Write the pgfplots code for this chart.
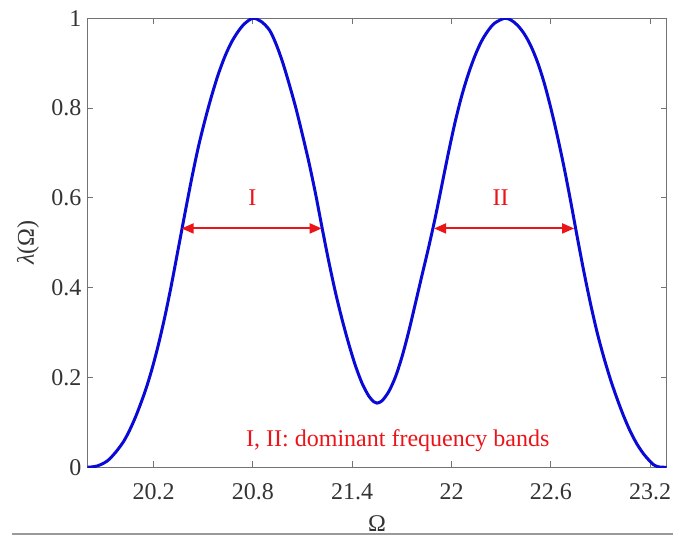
\documentclass[border=0pt]{standalone}
\usepackage{fontspec}
\setmainfont{Liberation Serif}
\usepackage{pgfplots}
\pgfplotsset{compat=1.18}
\usetikzlibrary{arrows.meta}
\definecolor{curveblue}{RGB}{10,10,215}
\definecolor{annred}{RGB}{235,20,25}
\begin{document}
\begin{tikzpicture}[font=\fontsize{12}{14}\selectfont]
\begin{axis}[
  name=ax, at={(0,0)}, anchor=south west,
  scale only axis, width=289.7pt, height=224.5pt,
  xmin=19.8, xmax=23.3, ymin=0, ymax=1,
  xtick={20.2,20.8,21.4,22,22.6,23.2},
  ytick={0,0.2,0.4,0.6,0.8,1},
  tick align=inside, major tick length=3pt,
  axis line style={black!55, line width=0.5pt},
  every tick/.style={black!55, line width=0.5pt},
  /pgf/number format/assume math mode=true,
  tick label style={font=\fontsize{12}{14}\selectfont, text=black!80},
  xticklabel style={anchor=base, yshift=-16pt},
  yticklabel style={anchor=east, inner sep=0pt, xshift=-2.8pt},
  xlabel={Ω}, ylabel={\textit{λ}(Ω)},
  xlabel style={at={(axis description cs:0.5,-0.1421)}, anchor=base, text=black!80},
  ylabel style={at={(axis description cs:-0.1023,0.5)}, anchor=center, text=black!80},
]
\addplot[curveblue, line width=1.5pt, smooth] coordinates {
(19.80,0.000) (19.86,0.003) (19.92,0.014) (19.97,0.033) (20.02,0.058)
(20.06,0.086) (20.10,0.120) (20.15,0.170) (20.19,0.218) (20.23,0.274)
(20.27,0.338) (20.31,0.410) (20.35,0.488) (20.39,0.566) (20.43,0.642)
(20.47,0.712) (20.51,0.772) (20.55,0.826) (20.59,0.874) (20.63,0.914)
(20.67,0.946) (20.71,0.970) (20.75,0.988) (20.80,1.000)
(20.85,0.993) (20.90,0.974) (20.94,0.943) (20.98,0.902) (21.02,0.853)
(21.06,0.800) (21.10,0.740) (21.14,0.677) (21.18,0.607) (21.22,0.530)
(21.26,0.456) (21.30,0.388) (21.34,0.328) (21.38,0.274) (21.42,0.226)
(21.46,0.187) (21.50,0.159) (21.53,0.146) (21.55,0.143)
(21.58,0.148) (21.62,0.168) (21.66,0.200) (21.70,0.245) (21.74,0.300)
(21.78,0.362) (21.82,0.425) (21.86,0.487) (21.90,0.553) (21.94,0.625)
(21.98,0.698) (22.02,0.766) (22.06,0.825) (22.10,0.874) (22.14,0.915)
(22.18,0.948) (22.22,0.972) (22.26,0.989) (22.32,1.000)
(22.36,0.996) (22.40,0.984) (22.44,0.965) (22.48,0.938) (22.52,0.902)
(22.56,0.856) (22.60,0.800) (22.64,0.737) (22.68,0.668) (22.72,0.592)
(22.76,0.512) (22.80,0.435) (22.84,0.364) (22.88,0.300) (22.92,0.245)
(22.96,0.196) (23.00,0.153) (23.04,0.114) (23.08,0.080) (23.12,0.052)
(23.16,0.030) (23.20,0.013) (23.22,0.006) (23.25,0.001) (23.30,0.000)
};
\draw[annred, line width=1pt, {Triangle[length=6pt,width=5pt]}-{Triangle[length=6pt,width=5pt]}]
  (axis cs:20.37,0.532) -- (axis cs:21.216,0.532);
\draw[annred, line width=1pt, {Triangle[length=6pt,width=5pt]}-{Triangle[length=6pt,width=5pt]}]
  (axis cs:21.895,0.532) -- (axis cs:22.741,0.532);
\node[text=annred] at (axis cs:20.797,0.600) {I};
\node[text=annred] at (axis cs:22.297,0.600) {II};
\node[text=annred, anchor=base] at (axis cs:21.676,0.046) {I, II: dominant frequency bands};
\end{axis}
\draw[black!40, line width=1pt] (-37.65pt,-33.5pt) -- (292.85pt,-33.5pt);
\pgfresetboundingbox
\path[use as bounding box] (-43.65pt,-34.85pt) rectangle (292.85pt,233.65pt);
\end{tikzpicture}
\end{document}
